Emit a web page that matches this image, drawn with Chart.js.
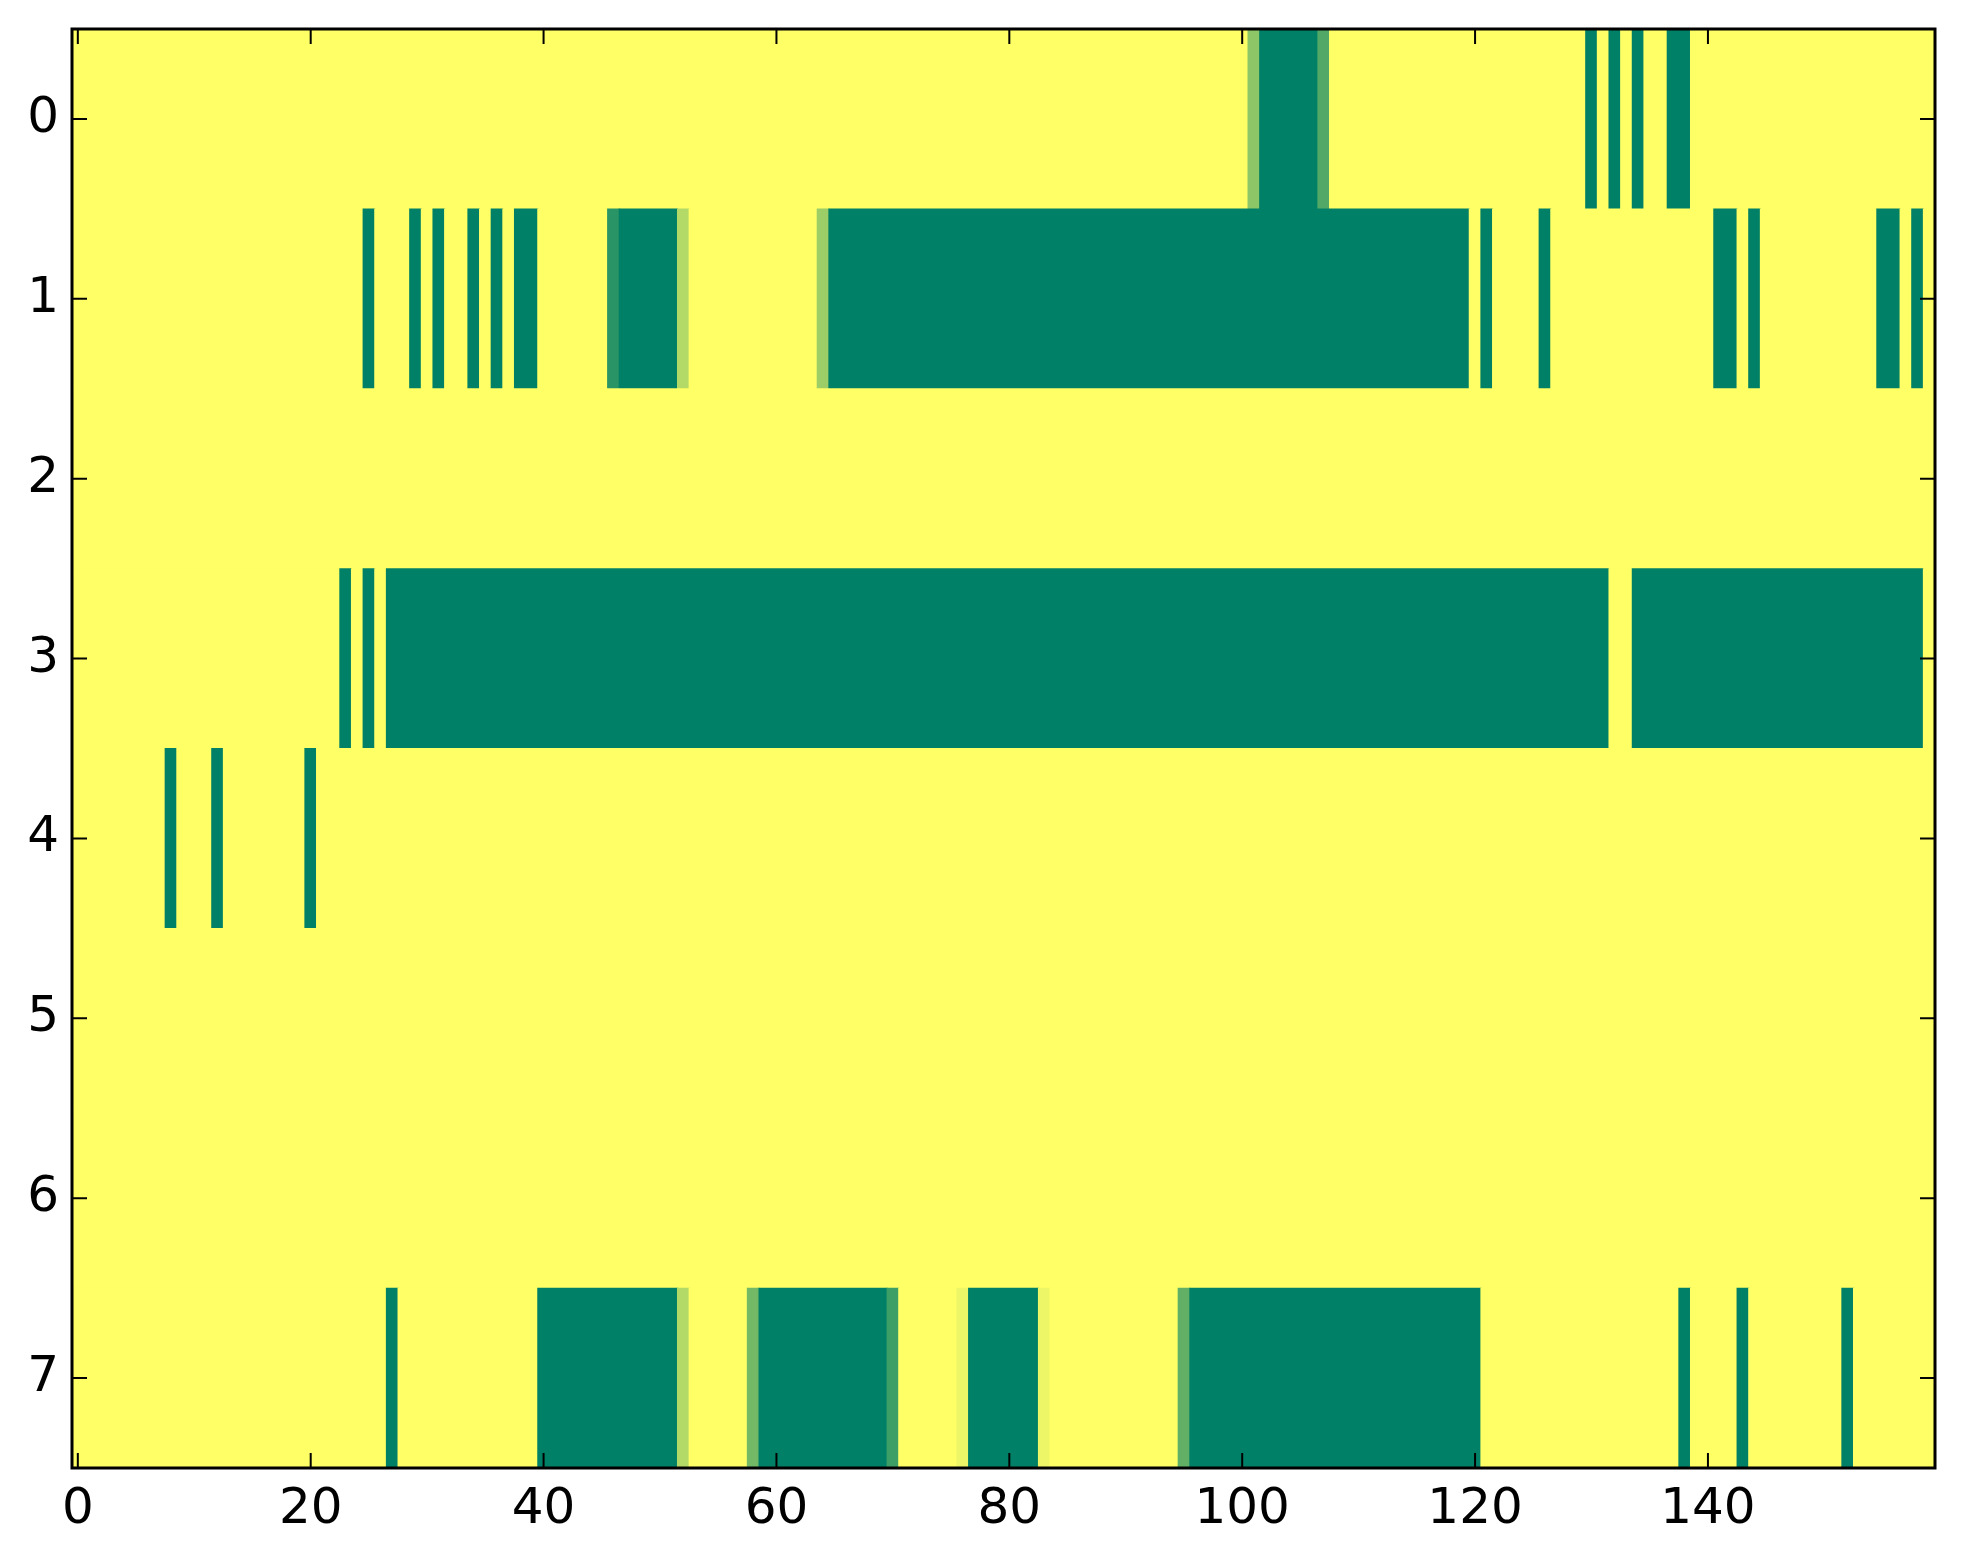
<!DOCTYPE html>
<html lang="en">
<head>
    <meta charset="UTF-8">
    <title>Heatmap</title>
    <script src="https://cdn.jsdelivr.net/npm/chart.js"></script>
    <style>
        html, body { margin: 0; padding: 0; background: #fff; overflow: hidden; }
        #wrap { width: 1963px; height: 1564px; }
    </style>
</head>
<body>
<div id="wrap"><canvas id="heatmap"></canvas></div>

<script>
    // rows of the image and the x tick labels
    const rowLabels = ['0', '1', '2', '3', '4', '5', '6', '7'];
    const nCols = 160;
    const xTicks = [0, 20, 40, 60, 80, 100, 120, 140];

    // cells that are not 1 (yellow): [firstCol, lastCol, value]
    const row0 = [[101, 101, 0.55], [102, 106, 0], [107, 107, 0.32], [130, 130, 0], [132, 132, 0], [134, 134, 0], [137, 138, 0]];
    const row1 = [[25, 25, 0], [29, 29, 0], [31, 31, 0], [34, 34, 0], [36, 36, 0], [38, 39, 0], [46, 46, 0.16], [47, 51, 0],
        [52, 52, 0.70], [64, 64, 0.61], [65, 119, 0], [121, 121, 0], [126, 126, 0], [141, 142, 0], [144, 144, 0],
        [155, 156, 0], [158, 158, 0]];
    const row2 = [];
    const row3 = [[23, 23, 0], [25, 25, 0], [27, 131, 0], [134, 158, 0]];
    const row4 = [[8, 8, 0], [12, 12, 0], [20, 20, 0]];
    const row5 = [];
    const row6 = [];
    const row7 = [[27, 27, 0], [40, 51, 0], [52, 52, 0.70], [58, 58, 0.45], [59, 69, 0], [70, 70, 0.24], [76, 76, 0.93],
        [77, 82, 0], [83, 83, 0.93], [95, 95, 0.38], [96, 120, 0], [138, 138, 0], [143, 143, 0], [152, 152, 0]];
    const rows = [row0, row1, row2, row3, row4, row5, row6, row7];

    // matplotlib "summer" colormap
    function summer(v) {
        const r = Math.round(255 * v);
        const g = Math.round(255 * (0.5 + 0.5 * v));
        const b = Math.round(255 * 0.4);
        return 'rgb(' + r + ',' + g + ',' + b + ')';
    }

    // full rows of values, then merged into runs of equal value -> one floating bar each
    const cells = [];
    rows.forEach((runs, r) => {
        const vals = new Array(nCols).fill(1);
        runs.forEach(([a, b, v]) => { for (let c = a; c <= b; c++) vals[c] = v; });
        let start = 0;
        for (let c = 1; c <= nCols; c++) {
            if (c === nCols || vals[c] !== vals[start]) {
                cells.push({ y: rowLabels[r], x: [start - 0.5, c - 0.5], v: vals[start] });
                start = c;
            }
        }
    });

    const FONT = { family: 'DejaVu Sans', size: 50 };

    // frame and inward tick marks on all four sides
    const framePlugin = {
        id: 'frame',
        beforeDatasetsDraw(chart) {
            const { ctx, chartArea: a } = chart;
            ctx.save();
            ctx.fillStyle = summer(1);
            ctx.fillRect(a.left, a.top, a.right - a.left, a.bottom - a.top);
            ctx.restore();
        },
        afterDraw(chart) {
            const { ctx, chartArea: a, scales } = chart;
            const len = 15;
            ctx.save();
            ctx.strokeStyle = '#000';
            ctx.lineWidth = 2;
            ctx.beginPath();
            scales.x.ticks.forEach(t => {
                const px = scales.x.getPixelForValue(t.value);
                ctx.moveTo(px, a.bottom); ctx.lineTo(px, a.bottom - len);
                ctx.moveTo(px, a.top); ctx.lineTo(px, a.top + len);
            });
            scales.y.ticks.forEach((t, i) => {
                const py = scales.y.getPixelForTick(i);
                ctx.moveTo(a.left, py); ctx.lineTo(a.left + len, py);
                ctx.moveTo(a.right, py); ctx.lineTo(a.right - len, py);
            });
            ctx.stroke();
            ctx.lineWidth = 3;
            ctx.strokeRect(a.left, a.top, a.right - a.left, a.bottom - a.top);
            ctx.restore();
        }
    };

    const ctx = document.getElementById('heatmap').getContext('2d');
    const heatmap = new Chart(ctx, {
        type: 'bar',
        data: {
            labels: rowLabels,
            datasets: [{
                data: cells,
                backgroundColor: c => summer(c.raw.v),
                borderWidth: 0,
                barPercentage: 1,
                categoryPercentage: 1,
                inflateAmount: 0.5
            }]
        },
        options: {
            indexAxis: 'y',
            responsive: true,
            maintainAspectRatio: false,
            animation: false,
            events: [],
            layout: { padding: { top: 29, right: 28, left: 0, bottom: 0 } },
            plugins: { legend: { display: false }, tooltip: { enabled: false } },
            scales: {
                x: {
                    type: 'linear',
                    min: -0.5,
                    max: nCols - 0.5,
                    afterBuildTicks: s => { s.ticks = xTicks.map(v => ({ value: v })); },
                    afterFit: s => { s.height = 96; s.paddingLeft = 0; s.paddingRight = 0; },
                    grid: { display: false, drawTicks: false },
                    border: { display: false },
                    ticks: { color: '#000', font: FONT, padding: 12, maxRotation: 0, autoSkip: false }
                },
                y: {
                    type: 'category',
                    offset: true,
                    afterFit: s => { s.width = 72; s.paddingTop = 0; s.paddingBottom = 0; },
                    grid: { display: false, drawTicks: false },
                    border: { display: false },
                    ticks: { color: '#000', font: FONT, padding: 13 }
                }
            }
        },
        plugins: [framePlugin]
    });
</script>
</body>
</html>
